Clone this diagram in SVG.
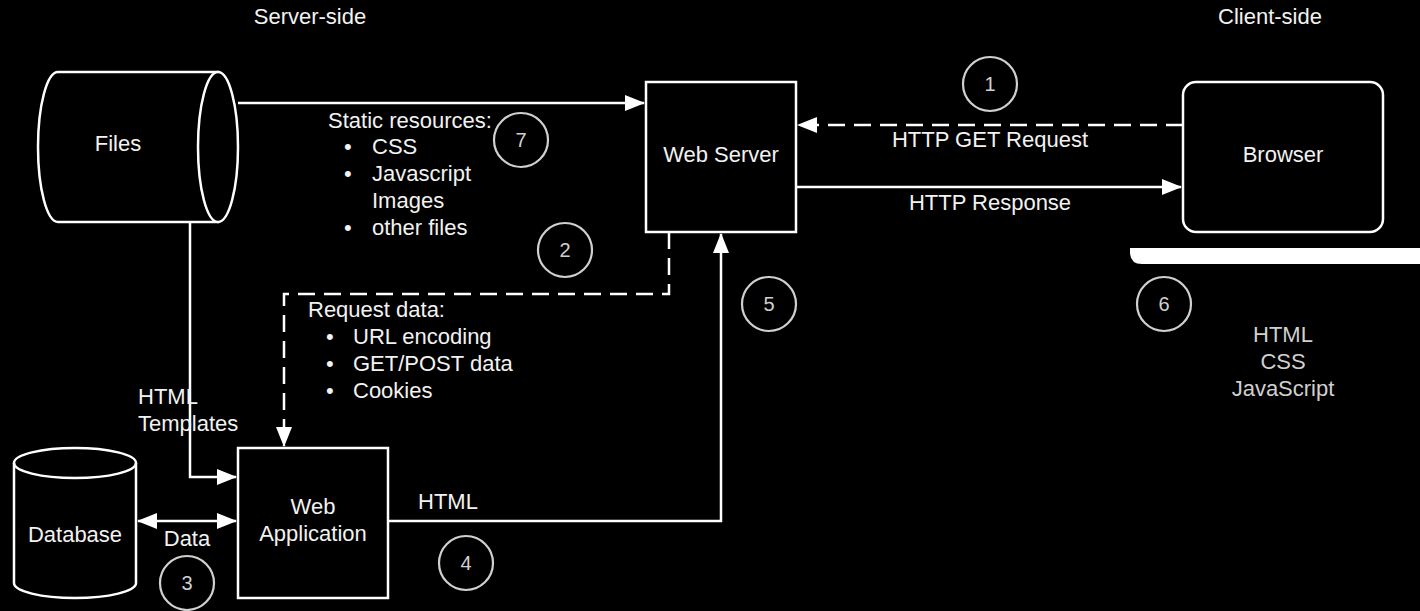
<svg xmlns="http://www.w3.org/2000/svg" width="1420" height="611" viewBox="0 0 1420 611">
<defs>
<style>
.t{font-family:"Liberation Sans",Arial,sans-serif;font-size:22px;fill:#f2f2f2}
.m{text-anchor:middle}
.g{fill:#d0d0d0}
.n{font-family:"Liberation Sans",Arial,sans-serif;font-size:20px;fill:#d0d0d0;text-anchor:middle}
.s{fill:#000;stroke:#fff;stroke-width:2.5}
.c{fill:none;stroke:#d0d0d0;stroke-width:2.2}
.l{fill:none;stroke:#fff;stroke-width:2.5}
.d{fill:none;stroke:#fff;stroke-width:2.5;stroke-dasharray:17 9}
</style>
<marker id="a" viewBox="0 0 20 16" refX="19" refY="8" markerWidth="20" markerHeight="16" markerUnits="userSpaceOnUse" orient="auto-start-reverse">
<path d="M0,0 L20,8 L0,16 Z" fill="#fff"/>
</marker>
</defs>
<rect width="1420" height="611" fill="#000"/>
<text class="t m" x="310" y="24">Server-side</text>
<text class="t m" x="1270" y="24">Client-side</text>

<g id="connectors">
<path class="l" d="M238,103 H644" marker-end="url(#a)"/>
<path class="l" d="M190,222 V477 H236" marker-end="url(#a)"/>
<path class="d" d="M1183,125 H798" marker-end="url(#a)"/>
<path class="l" d="M796,187 H1181" marker-end="url(#a)"/>
<path class="d" d="M669,232 V294 H284 V446" marker-end="url(#a)"/>
<path class="l" d="M388,521 H721 V234" marker-end="url(#a)"/>
<path class="l" d="M138,521 H236" marker-start="url(#a)" marker-end="url(#a)"/>
</g>

<g id="files">
<path class="s" d="M58,72 H218 V222 H58 A20,75 0 0 1 58,72 Z"/>
<ellipse class="s" cx="218" cy="147" rx="20" ry="75"/>
<text class="t m" x="118" y="151">Files</text>
</g>

<g id="static-label">
<text class="t" x="328" y="128">Static resources:</text>
<text class="t" x="344" y="154">•</text><text class="t" x="372" y="154">CSS</text>
<text class="t" x="344" y="181">•</text><text class="t" x="372" y="181">Javascript</text>
<text class="t" x="372" y="208">Images</text>
<text class="t" x="344" y="235">•</text><text class="t" x="372" y="235">other files</text>
</g>

<g id="web-server">
<rect class="s" x="646" y="82" width="150" height="150"/>
<text class="t m" x="721" y="162">Web Server</text>
</g>

<g id="browser">
<rect class="s" x="1183" y="82" width="200" height="150" rx="13"/>
<text class="t m" x="1283" y="162">Browser</text>
</g>

<g id="http-labels">
<text class="t m" x="990" y="147">HTTP GET Request</text>
<text class="t m" x="990" y="210">HTTP Response</text>
</g>

<g id="client-bar">
<path d="M1130,248 H1420 V264 H1142 Q1130,264 1130,252 Z" fill="#fff"/>
</g>

<g id="client-content">
<text class="t m g" x="1283" y="342">HTML</text>
<text class="t m g" x="1283" y="369">CSS</text>
<text class="t m g" x="1283" y="396">JavaScript</text>
</g>

<g id="request-label">
<text class="t" x="308" y="317">Request data:</text>
<text class="t" x="326" y="344">•</text><text class="t" x="353" y="344">URL encoding</text>
<text class="t" x="326" y="371">•</text><text class="t" x="353" y="371">GET/POST data</text>
<text class="t" x="326" y="398">•</text><text class="t" x="353" y="398">Cookies</text>
</g>

<g id="templates-label">
<text class="t" x="138" y="404">HTML</text>
<text class="t" x="138" y="431">Templates</text>
</g>

<g id="web-application">
<rect class="s" x="238" y="448" width="150" height="150"/>
<text class="t m" x="313" y="514">Web</text>
<text class="t m" x="313" y="541">Application</text>
</g>

<g id="database">
<path class="s" d="M14,463 A61,15 0 0 1 136,463 V583 A61,15 0 0 1 14,583 Z"/>
<path class="l" d="M14,463 A61,15 0 0 0 136,463"/>
<text class="t m" x="75" y="542">Database</text>
</g>

<text class="t m" x="187" y="546">Data</text>
<text class="t" x="418" y="509">HTML</text>

<g id="steps">
<circle class="c" cx="990" cy="84" r="27"/><text class="n" x="990" y="91">1</text>
<circle class="c" cx="565" cy="250" r="27"/><text class="n" x="565" y="257">2</text>
<circle class="c" cx="187" cy="583" r="27"/><text class="n" x="187" y="590">3</text>
<circle class="c" cx="466" cy="563" r="27"/><text class="n" x="466" y="570">4</text>
<circle class="c" cx="769" cy="304" r="27"/><text class="n" x="769" y="311">5</text>
<circle class="c" cx="1164" cy="304" r="27"/><text class="n" x="1164" y="311">6</text>
<circle class="c" cx="521" cy="140" r="27"/><text class="n" x="521" y="147">7</text>
</g>
</svg>
